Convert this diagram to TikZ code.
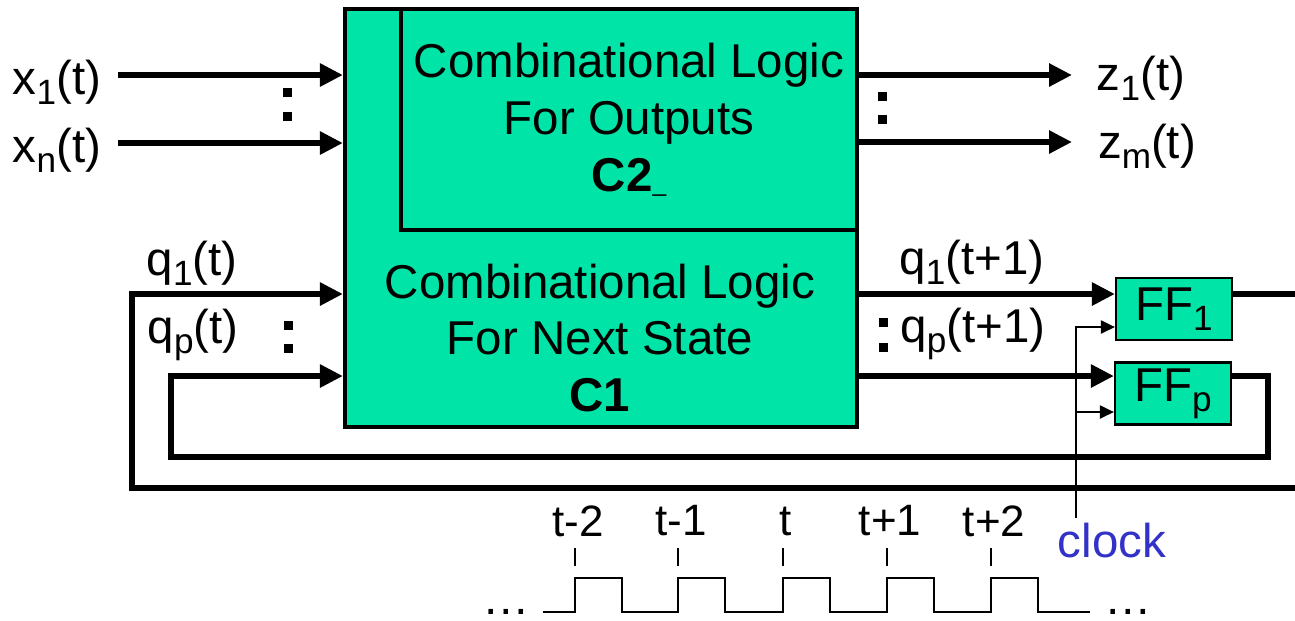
\documentclass[tikz,border=0pt]{standalone}
\usepackage{fontspec}
\setmainfont{Liberation Sans}
\usepackage{xcolor}
\usetikzlibrary{arrows.meta,calc}
\definecolor{combo}{RGB}{0,228,168}
\definecolor{clockblue}{RGB}{50,50,200}
\newcommand{\lowsub}[1]{\raisebox{-2.8pt}{\fontsize{10}{10}\selectfont #1}}
\tikzset{
  logic/.style={draw, line width=1.1pt, fill=combo, inner sep=0pt, align=center},
  ffbox/.style={draw, line width=0.6pt, fill=combo, minimum width=1.16cm, minimum height=0.62cm, inner sep=0pt},
  sig/.style={inner sep=0pt},
  tick/.style={inner sep=0pt, font=\fontsize{12.5}{14}\selectfont},
  bus/.style={-{Triangle[length=2.3mm,width=2.2mm]}, line width=1.7pt},
  wire/.style={line width=1.7pt},
  clk/.style={-{Triangle[length=1.4mm,width=1.3mm]}, line width=0.6pt},
  wave/.style={line width=0.7pt},
  guide/.style={line width=0.5pt, dash pattern=on 5pt off 4pt}}

\begin{document}
\begin{tikzpicture}[x=0.01cm, y=-0.01cm, font=\fontsize{13.5}{16.2}\selectfont]
  \useasboundingbox (0,0) rectangle (1295,620);
  % combinational blocks
  \node[logic, minimum width=5.12cm, minimum height=4.18cm] (C1) at (601,218) {};
  \node[logic, minimum width=4.56cm, minimum height=2.21cm] (C2) at (629,119.5)
    {Combinational Logic\\For Outputs\\\textbf{C2}{\fontsize{7}{7}\selectfont\_}};
  \node[align=center, inner sep=0pt] (C1txt) at (600,338)
    {Combinational Logic\\For Next State\\\textbf{C1}};
  % flip-flops
  \node[ffbox] (FF1) at (1174,309) {FF\lowsub{1}};
  \node[ffbox] (FFp) at (1173,393.5) {FF\lowsub{p}};

  % inputs and outputs
  \node[sig] (x1) at (57,82) {x\lowsub{1}(t)};
  \node[sig] (xn) at (57,150) {x\lowsub{n}(t)};
  \node[sig] (z1) at (1141,78) {z\lowsub{1}(t)};
  \node[sig] (zm) at (1147,146) {z\lowsub{m}(t)};
  \coordinate (x1s) at (118,75);
  \coordinate (xns) at (118,143);
  \coordinate (z1e) at (1072,75);
  \coordinate (zme) at (1072,142);
  \draw[bus] (x1s) -- (x1s -| C1.west);
  \draw[bus] (xns) -- (xns -| C1.west);
  \draw[bus] (z1e -| C2.east) -- (z1e);
  \draw[bus] (zme -| C2.east) -- (zme);

  % state lines
  \node[sig] (q1) at (192,263) {q\lowsub{1}(t)};
  \node[sig] (qp) at (193,335) {q\lowsub{p}(t)};
  \node[sig] (q1n) at (972,262) {q\lowsub{1}(t+1)};
  \node[sig] (qpn) at (973,334) {q\lowsub{p}(t+1)};
  \coordinate (q1r) at (132,294);
  \coordinate (qpr) at (171,376);
  \coordinate (edgeA) at (1295,294);
  \coordinate (edgeB) at (1295,488);
  \coordinate (fbp) at (1268,457);
  \draw[bus] (q1r -| C1.east) -- (q1r -| FF1.west);
  \draw[bus] (qpr -| C1.east) -- (qpr -| FFp.west);
  \draw[wire] (FF1.east |- q1r) -- (edgeA);
  \draw[bus] (edgeB) -- (q1r |- edgeB) -- (q1r) -- (q1r -| C1.west);
  \draw[bus] (FFp.east |- qpr) -- (fbp |- qpr) -- (fbp) -- (qpr |- fbp) -- (qpr) -- (qpr -| C1.west);

  % dots
  \foreach \x/\y in {287/92, 287/116, 288/325, 288/348, 882/96, 882/119, 883/322, 883/347}
    \fill (\x-4.5,\y-4.5) rectangle ++(9,9);

  % clock
  \coordinate (ckb) at (1076,518);
  \coordinate (ck1) at (1076,327);
  \coordinate (ckp) at (1076,412);
  \draw[clk] (ckb) -- (ck1) -- (ck1 -| FF1.west);
  \draw[clk] (ckp) -- (ckp -| FFp.west);
  \node[inner sep=0pt, text=clockblue] (clock) at (1112,541) {clock};

  % waveform
  \draw[wave] (543,612) foreach \x in {575,678,783,887,991} {
      -- (\x,612) -- (\x,578) -- (\x+47,578) -- (\x+47,612) } -- (1090,612);
  \foreach \x/\t [count=\i] in {575/t-2, 678/t-1, 783/t, 887/t+1, 991/t+2} {
    \draw[guide] (\x,548) -- (\x,578);
    \node[tick] (tk\i) at (\x+3,521) {\t};
  }
  \node[inner sep=0pt] (dotsL) at (506,612) {…};
  \node[inner sep=0pt] (dotsR) at (1128,612) {…};
\end{tikzpicture}
\end{document}
